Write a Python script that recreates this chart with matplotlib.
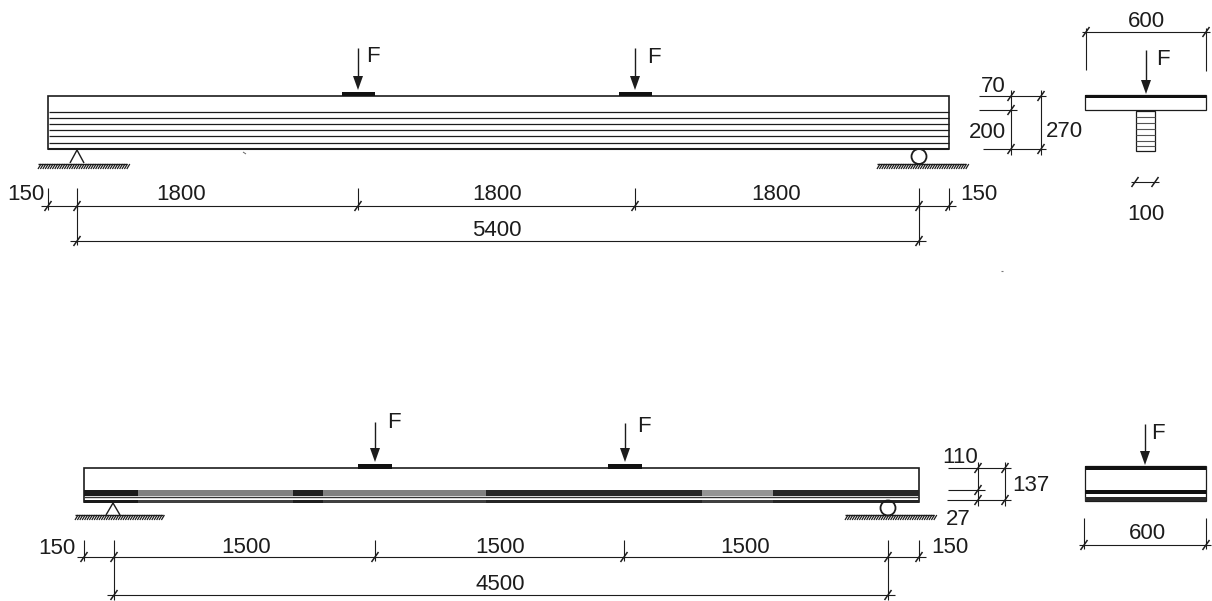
import numpy as np
import matplotlib
matplotlib.use('Agg')
import matplotlib.pyplot as plt
from matplotlib.patches import Circle, Rectangle, Polygon

plt.rcParams['font.family'] = ['Liberation Sans', 'DejaVu Sans']

# drawing geometry, in pixels of the sheet
# upper beam
beam1_x = [48, 949]
beam1_y = [96, 149]
beam1_layers = [111.5, 117.5, 124, 129.5, 135.5, 143]
beam1_loads = [358, 635]
beam1_chain = [48, 77, 358, 635, 919, 949]
beam1_chain_labels = ['150', '1800', '1800', '1800', '150']
beam1_total = [77, 919]
beam1_total_label = '5400'

# lower beam
beam2_x = [84, 919]
beam2_y = [468, 502]
beam2_loads = [375, 625]
beam2_chain = [84, 114, 375, 624, 888, 919]
beam2_chain_labels = ['150', '1500', '1500', '1500', '150']
beam2_total = [114, 888]
beam2_total_label = '4500'
# mottled band of the lower beam: start, end, grey level
band_starts = [84, 138, 293, 323, 486, 702, 773]
band_ends = [138, 293, 323, 486, 702, 773, 919]
band_greys = [0.1, 0.5, 0.12, 0.5, 0.15, 0.58, 0.15]

fig = plt.figure(figsize=(12.12, 6.01), dpi=100)
ax = fig.add_axes([0, 0, 1, 1])
ax.set_xlim(0, 1212)
ax.set_ylim(601, 0)
ax.axis('off')

DARK = '#1c1c1c'
FS = 16


def line(xs, ys, lw=0.8, c=DARK):
    ax.plot(xs, ys, color=c, lw=lw, solid_capstyle='butt')


def label(x, y, s):
    # va=center sits a little high for digits
    ax.text(x, y + 1.5, s, fontsize=FS, ha='center', va='center', color=DARK)


def tick(x, y):
    line([x - 3.5, x + 3.5], [y + 5, y - 5], lw=1.1)


def hdim(x0, x1, y, over=7):
    line([x0 - over, x1 + over], [y, y])
    tick(x0, y)
    tick(x1, y)


def vdim(x, y0, y1):
    line([x, x], [y0 - 6, y1 + 6])


def force(x, y0, y1, fx, fy):
    line([x, x], [y0, y1 - 12], lw=1.0)
    ax.add_patch(Polygon([[x - 5, y1 - 14], [x + 5, y1 - 14], [x, y1]], color=DARK, lw=0))
    label(fx, fy, 'F')


def ground(x0, x1, y):
    line([x0, x1], [y, y], lw=1.0)
    for x in np.arange(x0, x1, 2.4):
        line([x, x + 3], [y + 5, y], lw=0.9)


def pin(x, y0, y1):
    line([x - 7, x, x + 7], [y1, y0, y1], lw=1.0)


def roller(x, yc, r=7.5):
    ax.add_patch(Circle((x, yc), r, fill=False, ec=DARK, lw=1.3))


# upper beam
ax.add_patch(Rectangle((beam1_x[0], beam1_y[0]), beam1_x[1] - beam1_x[0],
                       beam1_y[1] - beam1_y[0], fill=False, ec=DARK, lw=1.2))
line(beam1_x, [beam1_y[1], beam1_y[1]], lw=1.5)
for y in beam1_layers:
    line([beam1_x[0] + 1, beam1_x[1]], [y, y], lw=0.9)
for x in beam1_loads:
    ax.add_patch(Rectangle((x - 16, 91.5), 33, 4.5, color='#111111', lw=0))
force(beam1_loads[0], 48, 90, 373, 55)
force(beam1_loads[1], 48, 90, 654, 56)
ground(38, 127, 164)
pin(77, 150, 163)
ground(877, 966, 164)
roller(919, 156.5)

# upper chain dimensions
for x in beam1_chain:
    line([x, x], [188, 210])
line([77, 77], [206, 245])
line([919, 919], [206, 245])
hdim(beam1_chain[0], beam1_chain[-1], 206)
for x in beam1_chain[1:-1]:
    tick(x, 206)
hdim(beam1_total[0], beam1_total[1], 241)
label(26, 193, beam1_chain_labels[0])
label(181, 193, beam1_chain_labels[1])
label(497, 193, beam1_chain_labels[2])
label(776, 193, beam1_chain_labels[3])
label(979, 193, beam1_chain_labels[4])
label(497, 229, beam1_total_label)

# upper section heights
line([979, 1046], [96, 96])
line([979, 1017], [110, 110])
line([983, 1046], [149, 149])
vdim(1011, 96, 149)
vdim(1041, 96, 149)
for x, y in [(1011, 96), (1011, 110), (1011, 149), (1041, 96), (1041, 149)]:
    tick(x, y)
label(993, 85, '70')
label(987, 131, '200')
label(1064, 130, '270')

# upper cross section
ax.add_patch(Rectangle((1085, 95), 121, 15, fill=False, ec=DARK, lw=0.9))
ax.add_patch(Rectangle((1085, 95), 121, 3, color='#111111', lw=0))
ax.add_patch(Rectangle((1136, 111), 19, 40, fill=False, ec=DARK, lw=0.9))
for y in [117, 123, 129, 135, 141, 146]:
    line([1136, 1155], [y, y], lw=0.8, c='#555555')
force(1146, 50, 94, 1163, 58)
line([1086, 1086], [28, 70])
line([1206, 1206], [28, 71])
hdim(1086, 1206, 32, over=4)
label(1146, 20, '600')
hdim(1135, 1155, 182, over=4)
label(1146, 213, '100')

# lower beam
ax.add_patch(Rectangle((beam2_x[0], beam2_y[0]), beam2_x[1] - beam2_x[0],
                       beam2_y[1] - beam2_y[0], fill=False, ec=DARK, lw=1.2))
for x0, x1, g in zip(band_starts, band_ends, band_greys):
    ax.add_patch(Rectangle((x0, 490), x1 - x0, 6, color=str(g), lw=0))
    ax.add_patch(Rectangle((x0, 500), x1 - x0, 2.5, color=str(min(g, 0.25)), lw=0))
line([beam2_x[0], beam2_x[1]], [497, 497], lw=1.0, c='#333333')
for x in beam2_loads:
    ax.add_patch(Rectangle((x - 17, 464), 34, 4.5, color='#111111', lw=0))
force(beam2_loads[0], 422, 462, 394, 421)
force(beam2_loads[1], 423, 462, 644, 425)
ground(75, 163, 515)
pin(113, 503, 515)
ground(845, 934, 515)
roller(888, 508)

# lower chain dimensions
for x in beam2_chain:
    line([x, x], [540, 561])
line([114, 114], [557, 600])
line([888, 888], [557, 600])
hdim(beam2_chain[0], beam2_chain[-1], 557)
for x in beam2_chain[1:-1]:
    tick(x, 557)
hdim(beam2_total[0], beam2_total[1], 595)
label(57, 547, beam2_chain_labels[0])
label(246, 546, beam2_chain_labels[1])
label(500, 546, beam2_chain_labels[2])
label(745, 546, beam2_chain_labels[3])
label(950, 546, beam2_chain_labels[4])
label(500, 583, beam2_total_label)

# lower section heights
line([948, 1011], [468, 468])
line([948, 985], [490, 490])
line([947, 1011], [500, 500])
vdim(978, 468, 500)
vdim(1005, 468, 500)
for x, y in [(978, 468), (978, 490), (978, 500), (1005, 468), (1005, 500)]:
    tick(x, y)
label(960, 456, '110')
label(1031, 484, '137')
label(958, 518, '27')

# lower cross section
ax.add_patch(Rectangle((1085, 466), 121, 35, fill=False, ec=DARK, lw=0.9))
ax.add_patch(Rectangle((1085, 466), 121, 4, color='#111111', lw=0))
ax.add_patch(Rectangle((1085, 490), 121, 4, color='#111111', lw=0))
ax.add_patch(Rectangle((1085, 497), 121, 4, color='#2a2a2a', lw=0))
force(1145, 424, 465, 1158, 432)
line([1084, 1084], [518, 549])
line([1206, 1206], [518, 549])
hdim(1084, 1206, 545, over=5)
label(1147, 532, '600')

# scan specks
line([243, 246], [152, 154], lw=0.7, c='#666666')
line([1001, 1003], [271, 271], lw=0.8, c='#777777')

fig.savefig('out.png', dpi=100)
